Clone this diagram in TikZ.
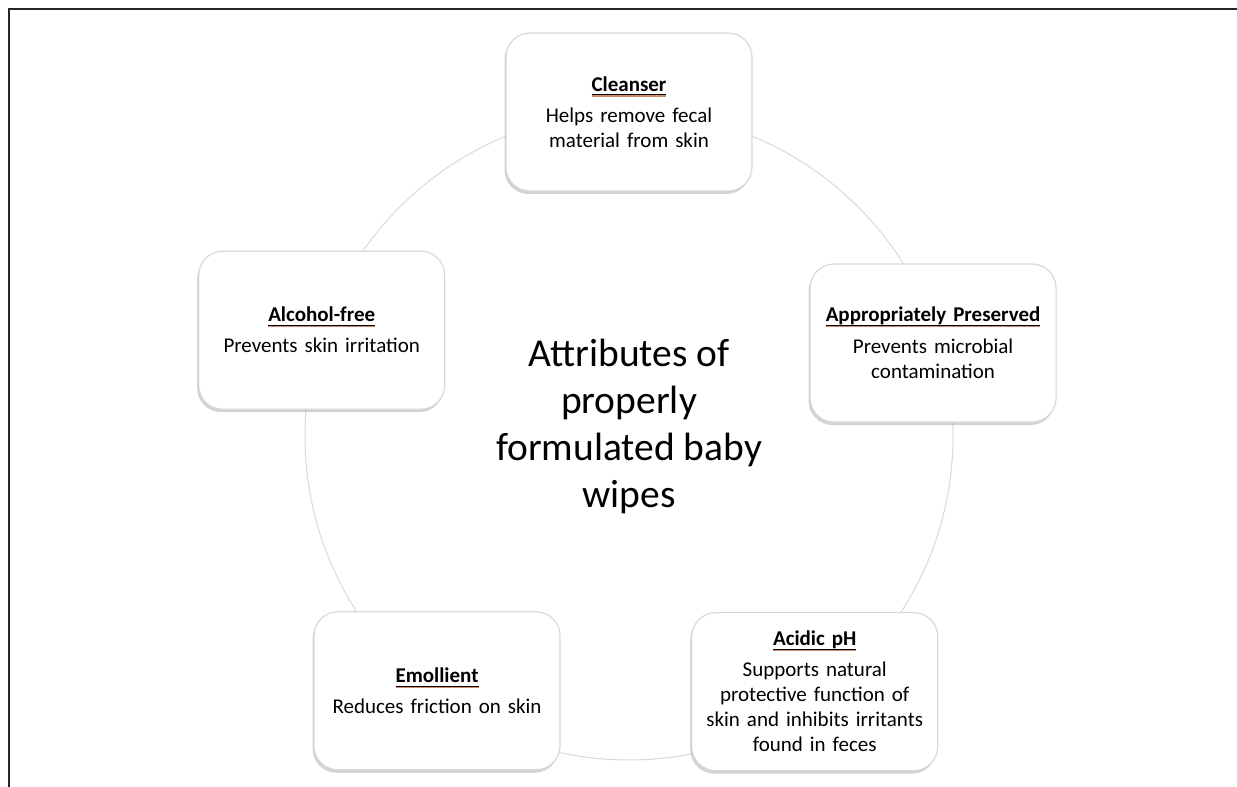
\documentclass[tikz,border=0pt]{standalone}
\usepackage{fontspec}
\setmainfont{Carlito}
\usetikzlibrary{calc,shadows}

\definecolor{lineshade}{RGB}{205,140,110}

% heading with a double-coloured underline
\newsavebox{\headbox}
\newcommand{\headline}[1]{%
  \sbox{\headbox}{\textbf{#1}}%
  \rlap{\raisebox{-5.4pt}{\color{lineshade}\rule{\wd\headbox}{1.2pt}}}%
  \rlap{\raisebox{-4.2pt}{\rule{\wd\headbox}{1.2pt}}}%
  \usebox{\headbox}}

\tikzset{
  wipebox/.style={draw=gray!30, line width=1.2pt, fill=white, rounded corners=24pt,
    minimum width=246pt, minimum height=158pt, text width=238pt, align=center,
    drop shadow={shadow xshift=-1.5pt, shadow yshift=-3pt, opacity=0.35},
    font=\fontsize{21}{25}\selectfont},
  ring/.style={gray!30, line width=1pt}
}

\begin{document}
\begin{tikzpicture}[x=1pt,y=1pt]

\useasboundingbox (0,0) rectangle (1237,787);

% Frame (top and left only)
\draw[line width=1.6pt, black!85] (1237,778) -- (9,778) -- (9,0);

% Centre of the ring
\coordinate (C) at (629,351);

% Ring behind the boxes
\draw[ring] (C) circle (324);

% Title in the middle
\node[font=\fontsize{39.5}{47}\selectfont, align=center] (title) at ($(C)+(0,10)$)
  {Attributes of\\ properly\\ formulated baby\\ wipes};

% Attribute boxes, one per corner of a pentagon
\node[wipebox] (cleanser) at ($(C)+(90:324)$)
  {\headline{Cleanser}\\[6pt] Helps remove fecal\\ material from skin};
\node[wipebox] (preserved) at ($(C)+(17:318)$)
  {\headline{Appropriately Preserved}\\[7pt] Prevents microbial\\ contamination};
\node[wipebox] (acidic) at ($(C)+(-54:316)$)
  {\headline{Acidic pH}\\[6pt] Supports natural\\ protective function of\\ skin and inhibits irritants\\ found in feces};
\node[wipebox] (emollient) at ($(C)+(-127:319)$)
  {\headline{Emollient}\\[6pt] Reduces friction on skin};
\node[wipebox] (alcohol) at ($(C)+(161:325)$)
  {\headline{Alcohol-free}\\[6pt] Prevents skin irritation};

\end{tikzpicture}
\end{document}
